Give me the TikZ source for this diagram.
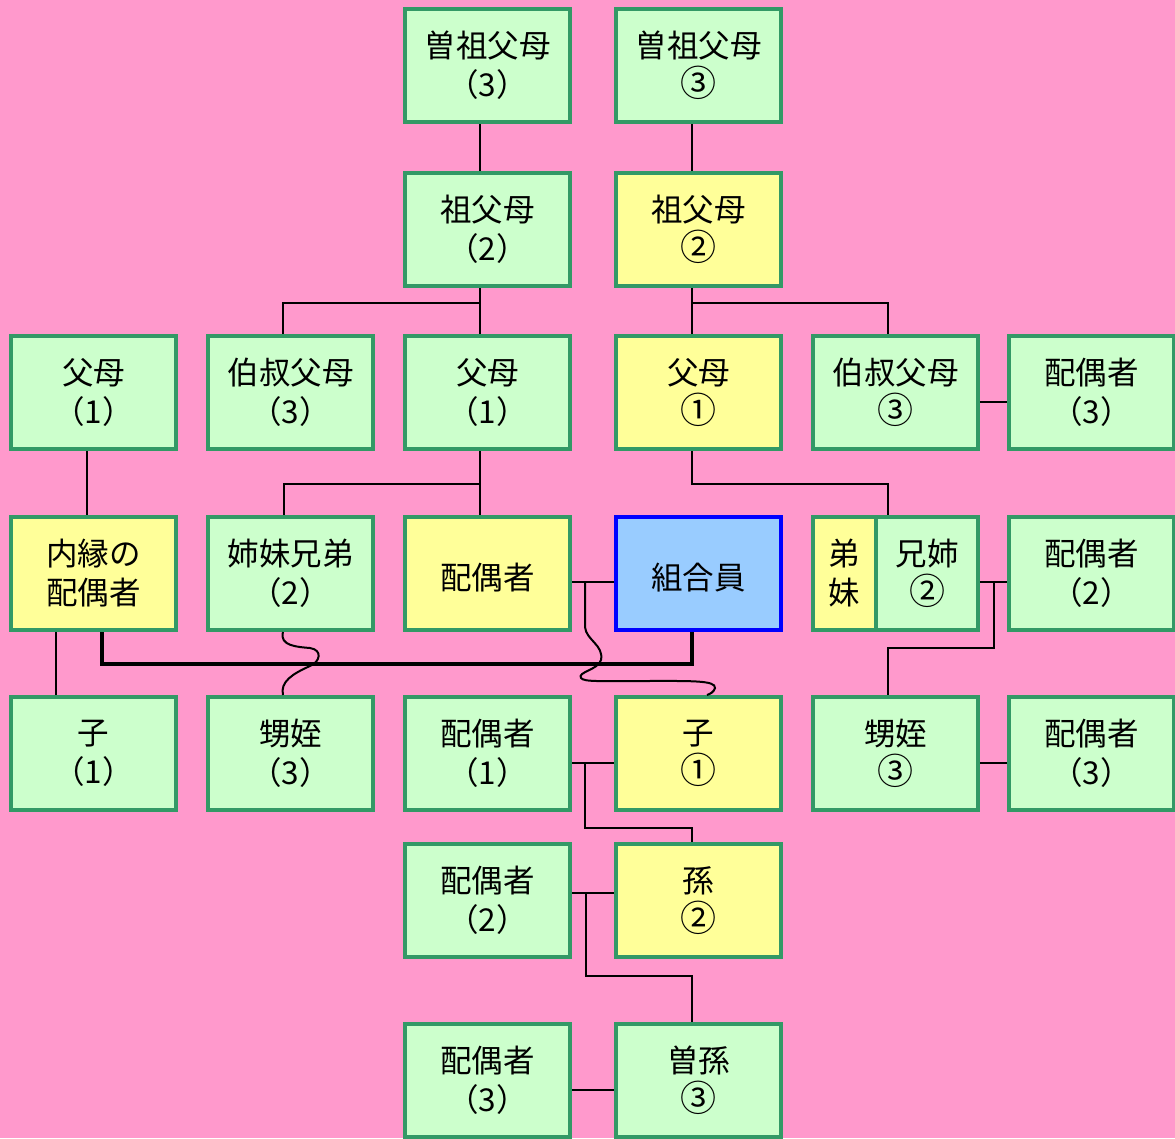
\documentclass[tikz,border=0pt]{standalone}
\usepackage{fontspec}
\setmainfont{Noto Sans CJK JP}
\usetikzlibrary{calc}
\definecolor{bgpink}{RGB}{255,153,204}
\definecolor{boxgreen}{RGB}{51,153,102}
\definecolor{lgreen}{RGB}{204,255,204}
\definecolor{lyellow}{RGB}{255,255,153}
\definecolor{lblue}{RGB}{153,204,255}
\newcommand{\circnum}[1]{{\fontsize{36}{39}\selectfont #1}}
\begin{document}
\begin{tikzpicture}[x=1pt,y=-1pt,
  box/.style={draw=boxgreen, line width=4pt, minimum width=165pt, minimum height=113pt,
    inner sep=0pt, align=center, font=\fontsize{31.5}{39}\selectfont,
    execute at begin node={\rule{0pt}{34pt}}},
  gbox/.style={box, fill=lgreen},
  ybox/.style={box, fill=lyellow},
  bbox/.style={box, fill=lblue, draw=blue},
  conn/.style={draw=black, line width=2pt},
  heavyconn/.style={draw=black, line width=3.5pt},
]
\fill[bgpink] (0,0) rectangle (1175,1138);
\useasboundingbox (0,0) rectangle (1175,1138);

% row 1
\node[gbox] (n11) at (487.5,65.5) {曽祖父母\\（3）};
\node[gbox] (n12) at (698.5,65.5) {曽祖父母\\\circnum{③}};
% row 2
\node[gbox] (n21) at (487.5,229.5) {祖父母\\（2）};
\node[ybox] (n22) at (698.5,229.5) {祖父母\\\circnum{②}};
% row 3
\node[gbox] (n31) at (93.5,392.5) {父母\\（1）};
\node[gbox] (n32) at (290.5,392.5) {伯叔父母\\（3）};
\node[gbox] (n33) at (487.5,392.5) {父母\\（1）};
\node[ybox] (n34) at (698.5,392.5) {父母\\\circnum{①}};
\node[gbox] (n35) at (895.5,392.5) {伯叔父母\\\circnum{③}};
\node[gbox] (n36) at (1091.5,392.5) {配偶者\\（3）};
% row 4
\node[ybox] (n41) at (93.5,573.5) {内縁の\\配偶者};
\node[gbox] (n42) at (290.5,573.5) {姉妹兄弟\\（2）};
\node[ybox] (n43) at (487.5,573.5) {配偶者};
\node[bbox] (n44) at (698.5,573.5) {組合員};
\node[ybox, minimum width=63pt] (n45a) at (844.5,573.5) {弟\\妹};
\node[gbox, minimum width=102pt] (n45b) at (927,573.5) {兄姉\\\circnum{②}};
\node[gbox] (n46) at (1091.5,573.5) {配偶者\\（2）};
% row 5
\node[gbox] (n51) at (93.5,753.5) {子\\（1）};
\node[gbox] (n52) at (290.5,753.5) {甥姪\\（3）};
\node[gbox] (n53) at (487.5,753.5) {配偶者\\（1）};
\node[ybox] (n54) at (698.5,753.5) {子\\\circnum{①}};
\node[gbox] (n55) at (895.5,753.5) {甥姪\\\circnum{③}};
\node[gbox] (n56) at (1091.5,753.5) {配偶者\\（3）};
% row 6
\node[gbox] (n63) at (487.5,900.5) {配偶者\\（2）};
\node[ybox] (n64) at (698.5,900.5) {孫\\\circnum{②}};
% row 7
\node[gbox] (n73) at (487.5,1080.5) {配偶者\\（3）};
\node[gbox] (n74) at (698.5,1080.5) {曽孫\\\circnum{③}};

% junction coordinates
\coordinate (j1) at (480,303);
\coordinate (j2) at (692,303);
\coordinate (j3) at (480,484);
\coordinate (j4) at (888,484);
\coordinate (j5) at (585,582);
\coordinate (j6) at (994,582);
\coordinate (j7) at (888,648);
\coordinate (j8) at (102,664);
\coordinate (j9) at (585,763);
\coordinate (j10) at (692,828);
\coordinate (j11) at (586,893);
\coordinate (j12) at (692,976);

% top connectors
\draw[conn] ([xshift=-7.5pt]n11.south) -- ([xshift=-7.5pt]n21.north);
\draw[conn] ([xshift=-6.5pt]n12.south) -- ([xshift=-6.5pt]n22.north);
\draw[conn] ([xshift=-7.5pt]n21.south) -- ([xshift=-7.5pt]n33.north);
\draw[conn] ([xshift=-7.5pt]n32.north) |- (j1);
\draw[conn] ([xshift=-6.5pt]n22.south) -- ([xshift=-6.5pt]n34.north);
\draw[conn] ([xshift=-7.5pt]n35.north) |- (j2);
\draw[conn] ($(n35.east)+(0,9.5)$) -- ($(n36.west)+(0,9.5)$);

% row 3 -> row 4
\draw[conn] ([xshift=-6.5pt]n31.south) -- ([xshift=-6.5pt]n41.north);
\draw[conn] ([xshift=-7.5pt]n33.south) -- ([xshift=-7.5pt]n43.north);
\draw[conn] ([xshift=-6.5pt]n42.north) |- (j3);
\draw[conn] ([xshift=-6.5pt]n34.south) |- (j4) -- (j4 |- n45b.north);

% row 4
\draw[conn] ($(n43.east)+(0,8.5)$) -- ($(n44.west)+(0,8.5)$);
\draw[conn] ($(n45b.east)+(0,8.5)$) -- ($(n46.west)+(0,8.5)$);
\draw[conn] (j6) |- (j7) -- ([xshift=-7.5pt]n55.north);
\draw[heavyconn] ([xshift=-6.5pt]n44.south) |- (j8) -- ([xshift=8.5pt]n41.south);
\draw[conn] ([xshift=-37.5pt]n41.south) -- ([xshift=-37.5pt]n51.north);

% wavy connectors
\draw[conn] ([xshift=-7.5pt]n42.south)
  .. controls (279,646) and (298,647) .. (310,648)
  .. controls (323,650) and (320,662) .. (310,666)
  .. controls (292,674) and (280,682) .. ([xshift=-7.5pt]n52.north);
\draw[conn] (j5) -- (585,627)
  .. controls (586,640) and (604,645) .. (601,660)
  .. controls (598,670) and (577,672) .. (581,678)
  .. controls (584,682) and (600,681) .. (640,681)
  .. controls (690,681) and (716,680) .. (715,688)
  .. controls (714,692) and (710,694) .. ([xshift=8.5pt]n54.north);

% lower connectors
\draw[conn] ($(n53.east)+(0,9.5)$) -- ($(n54.west)+(0,9.5)$);
\draw[conn] (j9) |- (j10) -- ([xshift=-6.5pt]n64.north);
\draw[conn] ($(n55.east)+(0,9.5)$) -- ($(n56.west)+(0,9.5)$);
\draw[conn] ($(n63.east)+(0,-7.5)$) -- ($(n64.west)+(0,-7.5)$);
\draw[conn] (j11) |- (j12) -- ([xshift=-6.5pt]n74.north);
\draw[conn] ($(n73.east)+(0,9.5)$) -- ($(n74.west)+(0,9.5)$);
\end{tikzpicture}
\end{document}
